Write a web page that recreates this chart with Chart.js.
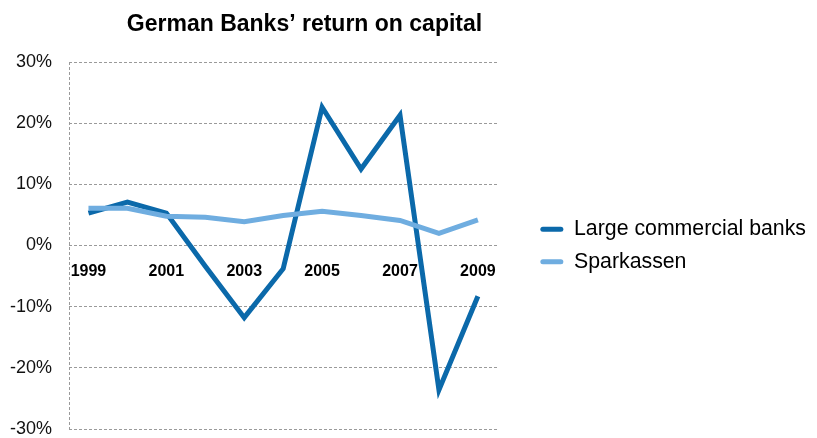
<!DOCTYPE html>
<html>
<head>
<meta charset="utf-8">
<script src="https://cdn.jsdelivr.net/npm/chart.js@4/dist/chart.umd.min.js"></script>
<style>
  html, body { margin: 0; padding: 0; background: #fff; }
  #wrap { width: 817px; height: 438px; }
</style>
</head>
<body>
<div id="wrap"><canvas id="c" width="817" height="438"></canvas></div>
<script>
// Return on capital of German banks, 1999-2009 (%)
const years = ['1999','2000','2001','2002','2003','2004','2005','2006','2007','2008','2009'];
const largeCommercial = [5.3, 7.1, 5.3, -3.4, -11.8, -3.8, 22.6, 12.5, 21.3, -23.6, -8.3];
const sparkassen = [6.1, 6.1, 4.8, 4.6, 3.9, 4.9, 5.6, 4.9, 4.1, 2.0, 4.2];
const yTicks = [-30, -20, -10, 0, 10, 20, 30];
const titleText = 'German Banks\u2019 return on capital';

const FONT = '"Liberation Sans", Arial, Helvetica, sans-serif';
const DARK = '#0b69aa';
const LIGHT = '#6fade0';
const GRID = '#9a9a9a';
const DASH = [3, 2];

// Chart heading, centred over the plot
const titlePlugin = {
  id: 'titleText',
  afterDraw(chart) {
    const ctx = chart.ctx;
    ctx.save();
    ctx.font = 'bold 23px ' + FONT;
    ctx.fillStyle = '#000';
    ctx.textAlign = 'center';
    ctx.textBaseline = 'alphabetic';
    ctx.fillText(titleText, 304.5, 31);
    ctx.restore();
  }
};

// Dashed vertical axis line on the left edge of the plot
const dashedAxisPlugin = {
  id: 'dashedAxis',
  beforeDatasetsDraw(chart) {
    const { ctx, chartArea } = chart;
    const x = Math.round(chartArea.left) + 0.5;
    ctx.save();
    ctx.strokeStyle = GRID;
    ctx.lineWidth = 1;
    ctx.setLineDash(DASH);
    ctx.beginPath();
    ctx.moveTo(x, chartArea.top);
    ctx.lineTo(x, chartArea.bottom);
    ctx.stroke();
    ctx.restore();
  }
};

new Chart(document.getElementById('c'), {
  type: 'line',
  data: {
    labels: years,
    datasets: [
      {
        label: 'Large commercial banks',
        data: largeCommercial,
        borderColor: DARK,
        backgroundColor: DARK,
        borderWidth: 5,
        pointRadius: 0,
        tension: 0,
        order: 1
      },
      {
        label: 'Sparkassen',
        data: sparkassen,
        borderColor: LIGHT,
        backgroundColor: LIGHT,
        borderWidth: 5,
        pointRadius: 0,
        tension: 0,
        order: 0
      }
    ]
  },
  options: {
    responsive: false,
    animation: false,
    layout: { padding: { top: 62, bottom: 9, left: 0, right: 1 } },
    plugins: {
      title: { display: false },
      tooltip: { enabled: false },
      legend: {
        position: 'right',
        fullSize: false,
        maxWidth: 295,
        labels: {
          color: '#000',
          font: { family: FONT, size: 21.3 },
          boxWidth: 23,
          boxHeight: 5,
          padding: 11,
          useBorderRadius: true,
          borderRadius: 2.5,
          sort: (a, b) => a.datasetIndex - b.datasetIndex,
          generateLabels(chart) {
            return chart.data.datasets.map((ds, i) => ({
              text: ds.label,
              fillStyle: ds.borderColor,
              strokeStyle: ds.borderColor,
              lineWidth: 0,
              fontColor: '#000',
              hidden: false,
              borderRadius: 2.5,
              datasetIndex: i
            }));
          }
        }
      }
    },
    scales: {
      x: {
        type: 'category',
        position: { y: 0 },
        offset: true,
        grid: { display: false, drawTicks: false },
        border: { display: false },
        ticks: {
          autoSkip: false,
          maxRotation: 0,
          padding: 16,
          color: '#000',
          font: { family: FONT, size: 16, weight: 'bold' },
          callback: (v, i) => (i % 2 === 0 ? years[i] : '')
        }
      },
      y: {
        min: -30,
        max: 30,
        afterFit(scale) {
          scale.width = 69;
          scale.paddingTop = 0;
          scale.paddingBottom = 0;
        },
        afterBuildTicks(scale) { scale.ticks = yTicks.map(v => ({ value: v })); },
        grid: { color: GRID, lineWidth: 1, drawTicks: false },
        border: { display: false, dash: DASH },
        ticks: {
          padding: 17,
          color: '#111',
          font: { family: FONT, size: 18 },
          callback: v => v + '%'
        }
      },
      spacer: {
        type: 'linear',
        position: 'right',
        display: true,
        afterFit(scale) { scale.width = 32; },
        grid: { display: false, drawTicks: false },
        border: { display: false },
        ticks: { display: false }
      }
    }
  },
  plugins: [titlePlugin, dashedAxisPlugin]
});
</script>
</body>
</html>
